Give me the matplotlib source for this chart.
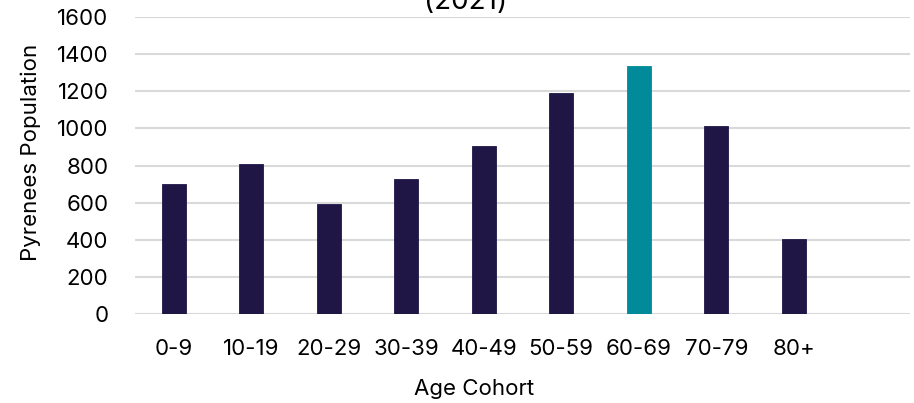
import matplotlib
matplotlib.use("Agg")
import matplotlib.pyplot as plt

categories = ["0-9", "10-19", "20-29", "30-39", "40-49", "50-59", "60-69", "70-79", "80+", ""]
values = [700, 808, 593, 727, 905, 1191, 1336, 1013, 404, 0]
highlight = "60-69"
yticks = [0, 200, 400, 600, 800, 1000, 1200, 1400, 1600]

navy = "#1F1646"
teal = "#008A9A"

plt.rcParams["font.family"] = ["Inter", "DejaVu Sans"]

W, H = 914, 403
fig = plt.figure(figsize=(W / 100, H / 100), dpi=100)
ax = fig.add_axes([135 / W, (H - 314) / H, (910 - 135) / W, (314 - 17) / H])

xs = list(range(len(categories)))
colors = [teal if c == highlight else navy for c in categories]
heights = [v if c else 0 for v, c in zip(values, categories)]
ax.bar(xs, heights, width=0.31, color=colors, edgecolor=colors, linewidth=0.6, zorder=3)

ax.set_xlim(-0.5, len(categories) - 0.5)
ax.set_ylim(0, 1600)
ax.set_yticks(yticks)
ax.set_yticklabels([str(t) for t in yticks])
ax.set_xticks(xs)
ax.set_xticklabels(categories)
ax.grid(axis="y", color="#D9D9D9", linewidth=1.5, zorder=0)
ax.set_axisbelow(True)
for s in ax.spines.values():
    s.set_visible(False)
ax.tick_params(axis="both", length=0, labelsize=16, colors="#000000")
ax.tick_params(axis="y", pad=19)
ax.tick_params(axis="x", pad=18)

fig.text(474 / W, 1 - 389 / H, "Age Cohort", fontsize=16, ha="center", va="center")
fig.text(31 / W, 1 - 152 / H, "Pyrenees Population", fontsize=16, ha="center",
         va="center", rotation=90)

fig.text(466 / W, 1 - 9 / H, "(2021)", fontsize=20, ha="center", va="baseline")

fig.savefig("out.png", dpi=100)
